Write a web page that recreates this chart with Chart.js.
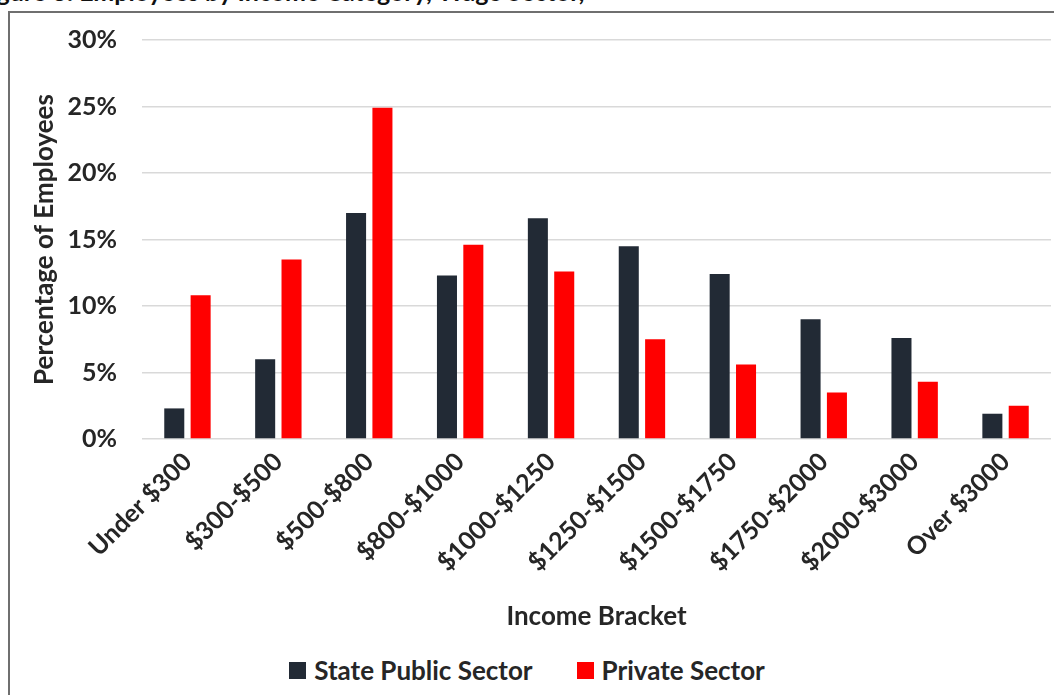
<!DOCTYPE html>
<html>
<head>
<meta charset="utf-8">
<script src="https://cdn.jsdelivr.net/npm/chart.js@4.4.1/dist/chart.umd.min.js"></script>
<style>
    html, body { margin: 0; padding: 0; background: #fff; overflow: hidden; }
    body { width: 1054px; height: 695px; position: relative; font-family: Lato, "Open Sans", sans-serif; }
    .fig-title {
        position: absolute; left: -24px; top: -24px;
        font: bold 25px Lato, sans-serif; color: #111; white-space: nowrap;
    }
    .frame {
        position: absolute; left: 8px; top: 11px; right: -10px; bottom: -10px;
        border-left: 2px solid #6f6f6f; border-top: 2px solid #6f6f6f;
    }
    #chart-wrap { position: absolute; left: 0; top: 0; width: 1054px; height: 640px; }
    .legend {
        position: absolute; left: 0; width: 1054px; top: 654px;
        display: flex; justify-content: center; align-items: center; gap: 44px;
        font: bold 26px Lato, sans-serif; color: #262626;
    }
    .legend-item { display: flex; align-items: center; gap: 8px; }
    .legend-box { width: 17px; height: 17px; display: inline-block; }
</style>
</head>
<body>
<div class="fig-title">Figure 3: Employees by Income Category, Wage Sector,</div>
<div class="frame"></div>
<div id="chart-wrap"><canvas id="chart-income"></canvas></div>
<div class="legend" id="legend"></div>

<script>
// income brackets and share of employees (%) per sector
const brackets = ["Under $300", "$300-$500", "$500-$800", "$800-$1000", "$1000-$1250",
                  "$1250-$1500", "$1500-$1750", "$1750-$2000", "$2000-$3000", "Over $3000"];
const statePublic = [2.3, 6.0, 17.0, 12.3, 16.6, 14.5, 12.4, 9.0, 7.6, 1.9];
const privateSector = [10.8, 13.5, 24.9, 14.6, 12.6, 7.5, 5.6, 3.5, 4.3, 2.5];
const seriesNames = ["State Public Sector", "Private Sector"];
const seriesColors = ["#222a35", "#ff0000"];
const yTicks = [0, 5, 10, 15, 20, 25, 30];

const textColor = "#262626";
const fontFamily = "Lato, 'Open Sans', sans-serif";

document.addEventListener("DOMContentLoaded", () => {
    renderChart();
    renderLegend();
});

// 1. bar chart
function renderChart() {
    const ctx = document.getElementById("chart-income").getContext("2d");
    new Chart(ctx, {
        type: "bar",
        data: {
            labels: brackets,
            datasets: [
                { label: seriesNames[0], data: statePublic, backgroundColor: seriesColors[0] },
                { label: seriesNames[1], data: privateSector, backgroundColor: seriesColors[1] }
            ]
        },
        options: {
            responsive: true,
            maintainAspectRatio: false,
            animation: false,
            categoryPercentage: 0.58,
            barPercentage: 0.76,
            layout: { padding: { top: 37, right: 3, left: 0, bottom: 0 } },
            plugins: {
                legend: { display: false },
                tooltip: { enabled: false }
            },
            scales: {
                x: {
                    grid: { display: false, drawTicks: false },
                    border: { display: false },
                    ticks: {
                        color: textColor,
                        font: { family: fontFamily, size: 25, weight: "bold" },
                        minRotation: 45,
                        maxRotation: 45,
                        padding: 8
                    },
                    title: {
                        display: true,
                        text: "Income Bracket",
                        color: textColor,
                        font: { family: fontFamily, size: 26, weight: "bold" },
                        padding: { top: 0, bottom: 8 }
                    },
                    afterFit: scale => { scale.height = 201; }
                },
                y: {
                    min: 0,
                    max: 30,
                    afterBuildTicks: scale => { scale.ticks = yTicks.map(v => ({ value: v })); },
                    grid: { color: "#d9d9d9", lineWidth: 1.5, drawTicks: false },
                    border: { display: false },
                    ticks: {
                        color: textColor,
                        font: { family: fontFamily, size: 25, weight: "bold" },
                        padding: 25,
                        callback: v => v + "%"
                    },
                    title: {
                        display: true,
                        text: "Percentage of Employees",
                        color: textColor,
                        font: { family: fontFamily, size: 26, weight: "bold" },
                        padding: { top: 29, bottom: 0 }
                    },
                    afterFit: scale => { scale.width = 142; }
                }
            }
        }
    });
}

// 2. legend under the chart
function renderLegend() {
    const legend = document.getElementById("legend");
    seriesNames.forEach((name, i) => {
        const item = document.createElement("div");
        item.className = "legend-item";
        const box = document.createElement("span");
        box.className = "legend-box";
        box.style.background = seriesColors[i];
        const label = document.createElement("span");
        label.textContent = name;
        item.appendChild(box);
        item.appendChild(label);
        legend.appendChild(item);
    });
}
</script>
</body>
</html>
